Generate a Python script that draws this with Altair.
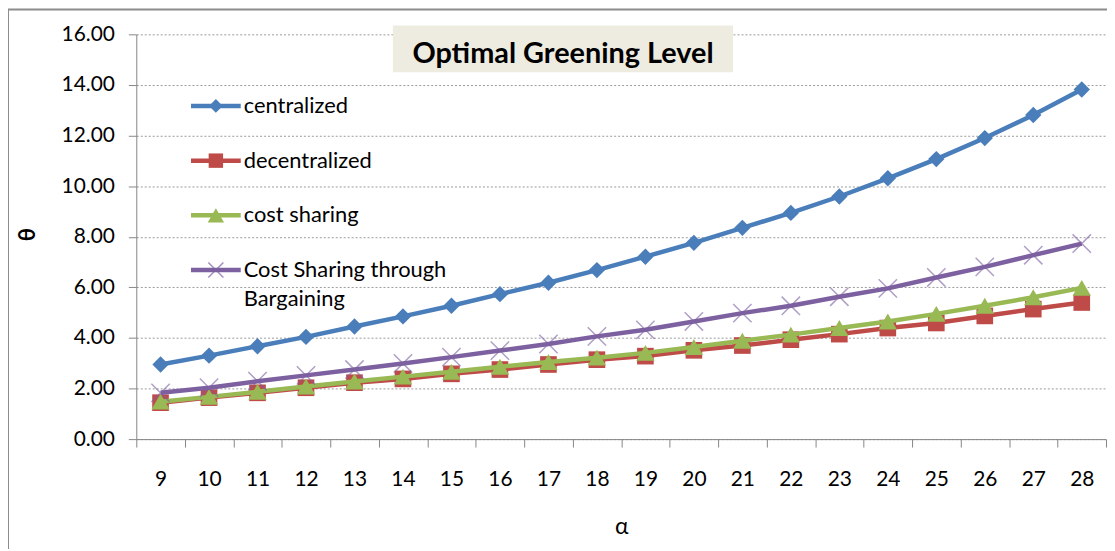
import altair as alt
import pandas as pd

# ---------------- data ----------------
alpha = list(range(9, 29))
series_names = ["centralized", "decentralized", "cost sharing",
                "Cost Sharing through Bargaining"]
legend_labels = ["centralized", "decentralized", "cost sharing",
                 "Cost Sharing through\nBargaining"]
centralized = [2.95, 3.30, 3.67, 4.04, 4.45, 4.85, 5.27, 5.73, 6.18, 6.68,
               7.21, 7.76, 8.35, 8.94, 9.59, 10.31, 11.07, 11.90, 12.81, 13.82]
decentralized = [1.44, 1.64, 1.83, 2.03, 2.23, 2.38, 2.58, 2.75, 2.95, 3.14,
                 3.28, 3.51, 3.70, 3.93, 4.15, 4.39, 4.59, 4.87, 5.14, 5.40]
cost_sharing = [1.48, 1.67, 1.87, 2.08, 2.28, 2.47, 2.66, 2.86, 3.05, 3.22,
                3.41, 3.64, 3.89, 4.13, 4.39, 4.65, 4.95, 5.27, 5.61, 5.98]
bargaining = [1.83, 2.03, 2.29, 2.52, 2.75, 2.99, 3.24, 3.50, 3.76, 4.06,
              4.32, 4.65, 4.98, 5.27, 5.63, 5.96, 6.39, 6.81, 7.27, 7.73]
series_colors = ["#4A7EBB", "#BE4B48", "#98B954", "#7D60A0"]
y_ticks = [0, 2, 4, 6, 8, 10, 12, 14, 16]
chart_title = "Optimal Greening Level"
x_title = "α"
y_title = "θ"

FONT = "Lato"
AXIS_GREY = "#868686"

rows = []
for name, vals in zip(series_names, [centralized, decentralized, cost_sharing, bargaining]):
    for a, v in zip(alpha, vals):
        rows.append({"alpha": a, "theta": v, "series": name})
df = pd.DataFrame(rows)

color_scale = alt.Scale(domain=series_names, range=series_colors)

x_enc = alt.X(
    "alpha:O", bandPosition=0.5,
    scale=alt.Scale(type="band", paddingInner=0, paddingOuter=0),
    axis=alt.Axis(title=x_title, labelAngle=0, tickBand="extent", grid=False,
                  domainColor=AXIS_GREY, tickColor=AXIS_GREY, tickSize=8,
                  labelFont=FONT, labelFontSize=21, labelColor="#000", labelPadding=22,
                  titleFont=FONT, titleFontSize=23, titleFontWeight="normal",
                  titleColor="#000", titlePadding=26),
)
y_enc = alt.Y(
    "theta:Q",
    scale=alt.Scale(domain=[0, 16], nice=False),
    axis=alt.Axis(title=y_title, values=y_ticks, format=".2f", grid=True,
                  gridColor="#9A9A9A", gridDash=[2, 2], gridWidth=1,
                  domainColor=AXIS_GREY, tickColor=AXIS_GREY, tickSize=8,
                  labelFont=FONT, labelFontSize=21, labelColor="#000", labelPadding=14,
                  titleFont=FONT, titleFontSize=22, titleFontWeight="bold",
                  titleColor="#000", titleX=-109, titleY=201, titleAngle=-90,
                  titleAlign="center", titleBaseline="middle"),
)

shapes = ["diamond", "square", "triangle-up", "M-1,-1L1,1M-1,1L1,-1"]
sizes = [270, 280, 340, 340]
legend_sizes = [190, 210, 270, 230]

layers = []
deco_df = pd.DataFrame({"t": [chart_title]})
border = alt.Chart(deco_df).mark_rect(
    fill="transparent", stroke="#8C8C8C", strokeWidth=2
).encode(x=alt.value(-129), y=alt.value(-25), x2=alt.value(1600), y2=alt.value(1000))
title_bg = alt.Chart(deco_df).mark_rect(fill="#EEECE1").encode(
    x=alt.value(258), x2=alt.value(600), y=alt.value(-9), y2=alt.value(38))
layers += [border, title_bg]


def marker(chart, i, size, opacity_x=0.6):
    if i < 3:
        return chart.mark_point(shape=shapes[i], filled=True, size=size, opacity=1)
    return chart.mark_point(shape=shapes[i], filled=False, size=size,
                            strokeWidth=1.5, opacity=opacity_x)


color_enc = alt.Color("series:N", scale=color_scale, legend=None)

for i, name in enumerate(series_names):
    base = alt.Chart(df[df.series == name])
    line = base.mark_line(strokeWidth=4.5).encode(x=x_enc, y=y_enc, color=color_enc)
    pts = marker(base, i, sizes[i]).encode(x=x_enc, y=y_enc, color=color_enc)
    layers += [line, pts]

# ---------------- legend (inside the plot, top-left) ----------------
legend_df = pd.DataFrame({"series": series_names, "label": legend_labels})
LEG_X0, LEG_X1, LEG_TXT = 55, 105, 108
LEG_Y0, LEG_STEP = 72, 55
for i, name in enumerate(series_names):
    ey = LEG_Y0 + LEG_STEP * i
    item = alt.Chart(legend_df[legend_df.series == name])
    seg = item.mark_rule(strokeWidth=4.5).encode(
        x=alt.value(LEG_X0), x2=alt.value(LEG_X1), y=alt.value(ey), color=color_enc)
    sym = marker(item, i, legend_sizes[i], opacity_x=0.7).encode(
        x=alt.value((LEG_X0 + LEG_X1) / 2), y=alt.value(ey), color=color_enc)
    txt = item.mark_text(
        font=FONT, fontSize=22, color="#000", align="left", baseline="alphabetic",
        lineBreak="\n", lineHeight=29,
    ).encode(text="label:N", x=alt.value(LEG_TXT), y=alt.value(ey + 7))
    layers += [seg, sym, txt]

title_txt = alt.Chart(deco_df).mark_text(
    font=FONT, fontSize=29, fontWeight="bold", color="#000"
).encode(text="t:N", x=alt.value(429), y=alt.value(20))
layers.append(title_txt)

chart = alt.layer(*layers).properties(
    width=975, height=407,
    autosize=alt.AutoSizeParams(type="none"),
    padding={"left": 129, "top": 25, "right": 1, "bottom": 109},
    background="white",
).configure_view(stroke=None)

chart.save("out.html", embed_options={"renderer": "svg", "actions": False})
